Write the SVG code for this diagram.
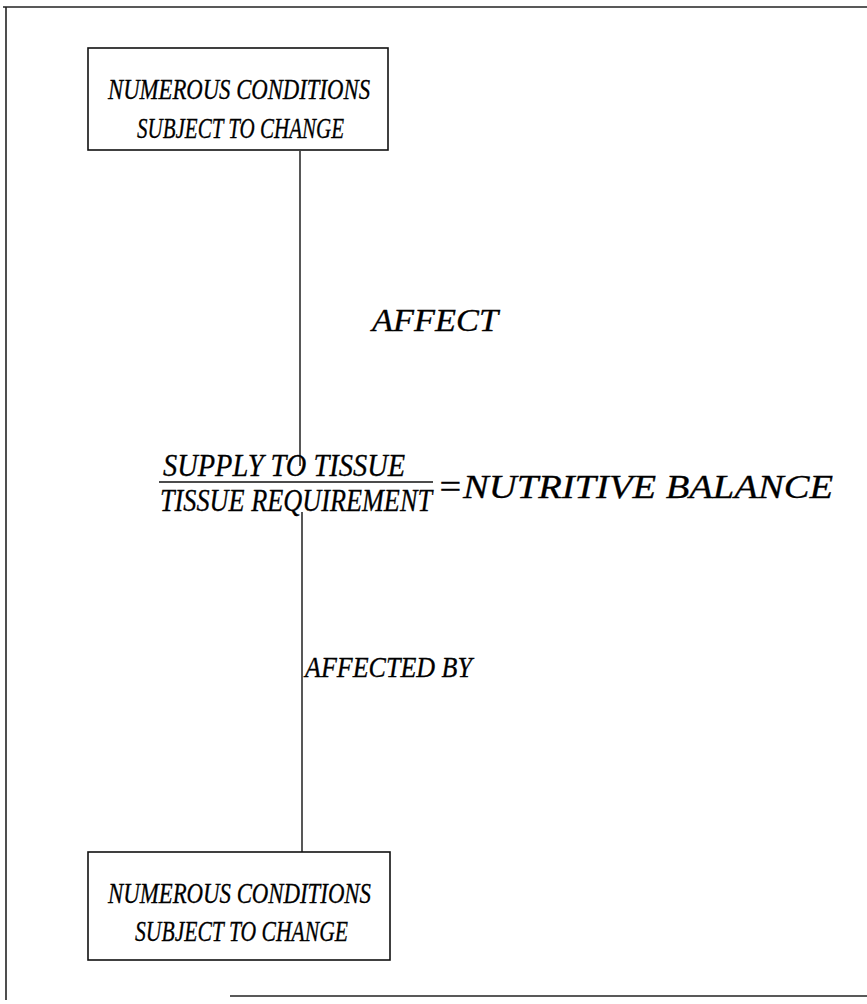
<svg xmlns="http://www.w3.org/2000/svg" width="867" height="1004" viewBox="0 0 867 1004">
<style>
.t{font-family:"Liberation Serif","Times New Roman",serif;font-style:italic;fill:#000;stroke:#000;stroke-width:0.3}
.b{font-size:30px}
.f{font-size:31px}
.box{fill:none;stroke:#111;stroke-width:1.6}
.ln{stroke:#111;stroke-width:1.4;fill:none}
.fr{stroke:#222;stroke-width:1.6;fill:none}
</style>
<rect width="867" height="1004" fill="#fff"/>
<g id="frame">
<line class="fr" x1="3" y1="7" x2="867" y2="7" stroke-width="2"/>
<line class="fr" x1="6" y1="7" x2="6" y2="1000"/>
<line class="fr" x1="230" y1="996" x2="867" y2="996" stroke-width="2"/>
</g>
<g id="connectors">
<line class="ln" x1="300" y1="151" x2="300" y2="466"/>
<line class="ln" x1="302" y1="512" x2="302" y2="852"/>
</g>
<g id="top-node">
<rect class="box" x="88" y="48" width="300" height="102"/>
<text class="t b" x="108" y="99" textLength="262" lengthAdjust="spacingAndGlyphs">NUMEROUS CONDITIONS</text>
<text class="t b" x="137" y="138" textLength="207" lengthAdjust="spacingAndGlyphs">SUBJECT TO CHANGE</text>
</g>
<g id="label-affect">
<text class="t" x="372" y="331" font-size="31" textLength="126" lengthAdjust="spacingAndGlyphs">AFFECT</text>
</g>
<g id="balance-node">
<text class="t f" x="163" y="476" textLength="242" lengthAdjust="spacingAndGlyphs">SUPPLY TO TISSUE</text>
<line class="ln" x1="159" y1="482" x2="433" y2="482" stroke-width="1.6"/>
<text class="t f" x="160" y="511" textLength="272" lengthAdjust="spacingAndGlyphs">TISSUE REQUIREMENT</text>
<text class="t" x="437" y="498" font-size="33" textLength="396" lengthAdjust="spacingAndGlyphs">=NUTRITIVE BALANCE</text>
</g>
<g id="label-affected-by">
<text class="t" x="305" y="677" font-size="30" textLength="167" lengthAdjust="spacingAndGlyphs">AFFECTED BY</text>
</g>
<g id="bottom-node">
<rect class="box" x="88" y="852" width="302" height="108"/>
<text class="t b" x="108" y="903" textLength="263" lengthAdjust="spacingAndGlyphs">NUMEROUS CONDITIONS</text>
<text class="t b" x="135" y="941" textLength="213" lengthAdjust="spacingAndGlyphs">SUBJECT TO CHANGE</text>
</g>
</svg>
